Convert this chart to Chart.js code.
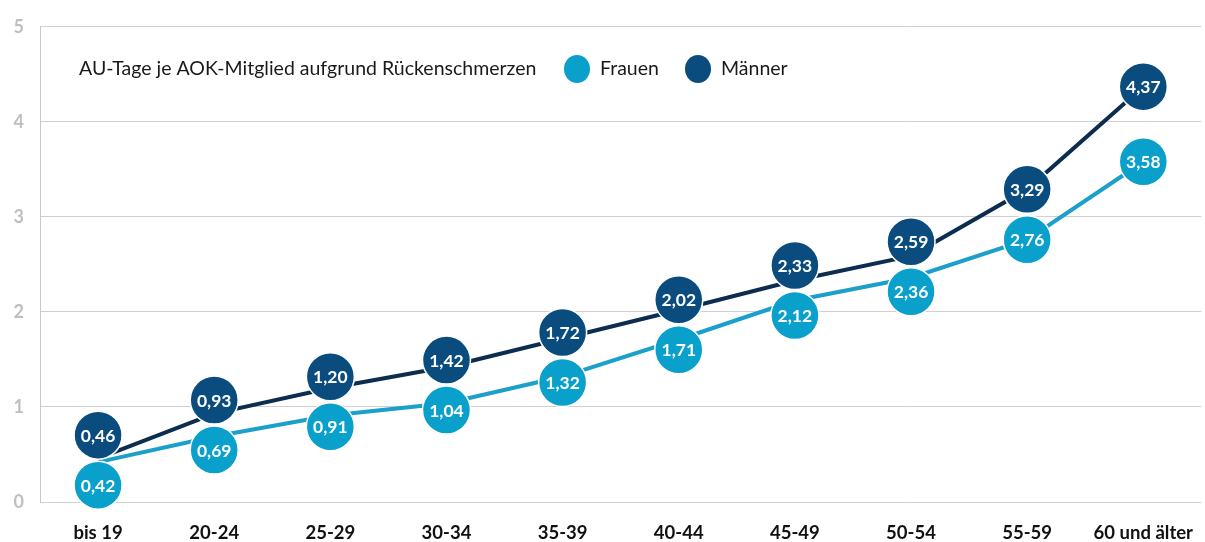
<!DOCTYPE html>
<html><head><meta charset="utf-8">
<script src="https://cdn.jsdelivr.net/npm/chart.js@4/dist/chart.umd.min.js"></script>
<style>html,body{margin:0;padding:0;background:#fff}#wrap{width:1205px;height:542px;position:relative}</style>
</head><body><div id="wrap"><canvas id="c" width="1205" height="542"></canvas></div>
<script>
const categories = ["bis 19","20-24","25-29","30-34","35-39","40-44","45-49","50-54","55-59","60 und älter"];
const frauen = [0.42,0.69,0.91,1.04,1.32,1.71,2.12,2.36,2.76,3.58];
const maenner = [0.46,0.93,1.20,1.42,1.72,2.02,2.33,2.59,3.29,4.37];
const yTicks = [0,1,2,3,4,5];
const legendTitle = "AU-Tage je AOK-Mitglied aufgrund Rückenschmerzen";

const FONT = "Lato, 'Noto Sans', sans-serif";
const colFrauenLine = "#1b9fcb", colFrauenDot = "#0aa0cc";
const colMaennerLine = "#0c2d4f", colMaennerDot = "#0b4c7e";

function fmt(v){ return v.toFixed(2).replace('.', ','); }

const bubblePlugin = {
  id: 'bubbles',
  afterDatasetsDraw(chart){
    const ctx = chart.ctx;
    const mM = chart.getDatasetMeta(1).data, mF = chart.getDatasetMeta(0).data;
    const R = 24, minSep = 50;
    ctx.save();
    for (let i = 0; i < categories.length; i++){
      let yM = mM[i].y, yF = mF[i].y;
      if (yF - yM < minSep){
        const mid = (yM + yF) / 2;
        yM = mid - minSep/2; yF = mid + minSep/2;
      }
      const items = [[mM[i].x, yM, colMaennerDot, maenner[i]], [mF[i].x, yF, colFrauenDot, frauen[i]]];
      for (const [x, y, col, v] of items){
        ctx.beginPath(); ctx.arc(x, y, R, 0, Math.PI*2);
        ctx.fillStyle = col; ctx.fill();
        ctx.lineWidth = 1.5; ctx.strokeStyle = '#ffffff'; ctx.stroke();
        ctx.fillStyle = '#ffffff';
        ctx.font = "bold 17.5px " + FONT;
        ctx.textAlign = 'center'; ctx.textBaseline = 'middle';
        ctx.fillText(fmt(v), x, y + 1);
      }
    }
    ctx.restore();
  }
};

const legendPlugin = {
  id: 'customLegend',
  afterDraw(chart){
    const ctx = chart.ctx;
    ctx.save();
    ctx.font = "19.5px " + FONT;
    ctx.fillStyle = '#1a1a1a';
    ctx.textBaseline = 'middle'; ctx.textAlign = 'left';
    const y = 69;
    ctx.fillText(legendTitle, 79, y);
    const items = [[chart.data.datasets[0].label, colFrauenDot, 577], [chart.data.datasets[1].label, colMaennerDot, 698]];
    for (const [lab, col, x] of items){
      ctx.beginPath(); ctx.ellipse(x, y, 13, 14, 0, 0, Math.PI*2);
      ctx.fillStyle = col; ctx.fill();
      ctx.fillStyle = '#1a1a1a';
      ctx.fillText(lab, x + 23, y);
    }
    ctx.restore();
  }
};

new Chart(document.getElementById('c'), {
  type: 'line',
  data: {
    labels: categories,
    datasets: [
      { label: 'Frauen', data: frauen, borderColor: colFrauenLine, borderWidth: 4, pointRadius: 0, tension: 0 },
      { label: 'Männer', data: maenner, borderColor: colMaennerLine, borderWidth: 4, pointRadius: 0, tension: 0 }
    ]
  },
  options: {
    responsive: false, animation: false,
    layout: { padding: { top: 22, right: 0, bottom: 0, left: 0 } },
    plugins: { legend: { display: false }, tooltip: { enabled: false } },
    scales: {
      x: {
        offset: true,
        grid: { display: false },
        border: { display: false },
        ticks: { color: '#111', font: { family: FONT, size: 18.5, weight: 'bold' }, padding: 12, maxRotation: 0, autoSkip: false, labelOffset: 0 },
        afterFit(s){ s.height = 40; }
      },
      y: {
        min: yTicks[0], max: yTicks[yTicks.length-1],
        afterBuildTicks(s){ s.ticks = yTicks.map(v => ({ value: v })); },
        grid: { color: '#d0d0d0', lineWidth: 1, drawTicks: false },
        border: { display: true, color: '#c8c8c8', width: 1 },
        ticks: { color: '#bfbfbf', font: { family: FONT, size: 18, weight: 'bold' }, padding: 16 },
        afterFit(s){ s.width = 40; }
      }
    }
  },
  plugins: [bubblePlugin, legendPlugin]
});
</script></body></html>
